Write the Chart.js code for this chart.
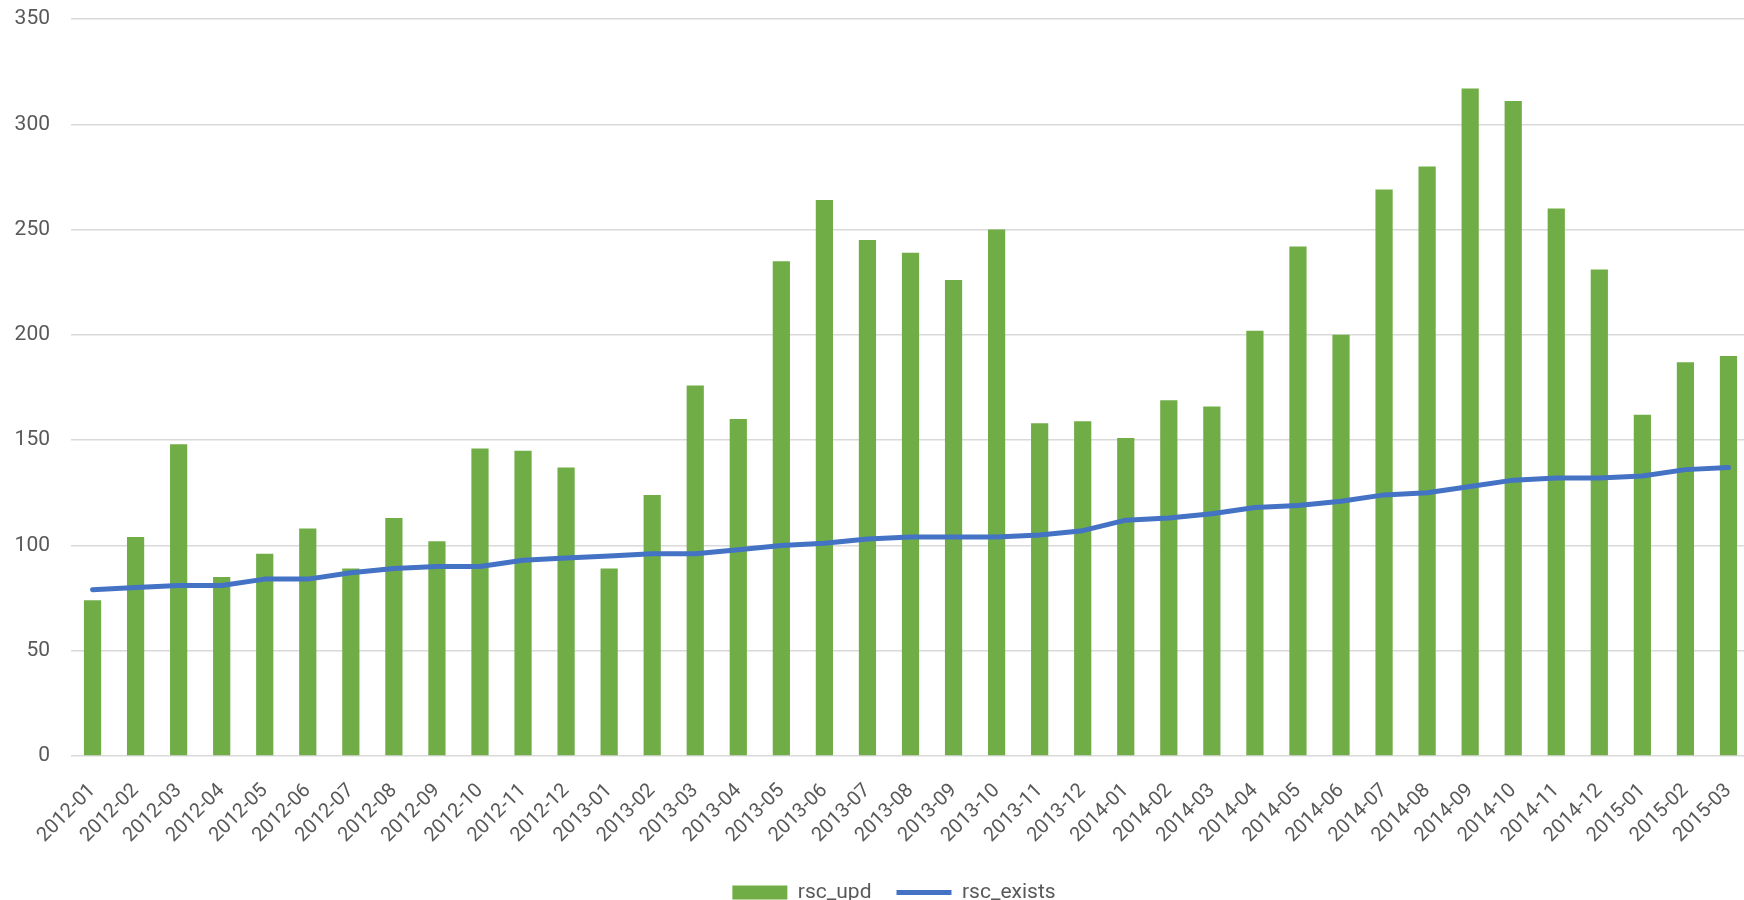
<!DOCTYPE html>
<html>
<head>
<meta charset="utf-8">
<script src="https://cdn.jsdelivr.net/npm/chart.js@4"></script>
<style>
  html, body { margin: 0; padding: 0; background: #fff; }
  #wrap { width: 1744px; height: 900px; }
</style>
</head>
<body>
<div id="wrap"><canvas id="myChart" width="1744" height="900"></canvas></div>
<script>
const months = [
  "2012-01", "2012-02", "2012-03", "2012-04", "2012-05", "2012-06", "2012-07", "2012-08", "2012-09", "2012-10", "2012-11", "2012-12",
  "2013-01", "2013-02", "2013-03", "2013-04", "2013-05", "2013-06", "2013-07", "2013-08", "2013-09", "2013-10", "2013-11", "2013-12",
  "2014-01", "2014-02", "2014-03", "2014-04", "2014-05", "2014-06", "2014-07", "2014-08", "2014-09", "2014-10", "2014-11", "2014-12",
  "2015-01", "2015-02", "2015-03"
];

const rscUpd = [
  74, 104, 148, 85, 96, 108, 89, 113, 102, 146, 145, 137,
  89, 124, 176, 160, 235, 264, 245, 239, 226, 250, 158, 159,
  151, 169, 166, 202, 242, 200, 269, 280, 317, 311, 260, 231,
  162, 187, 190
];

const rscExists = [
  79, 80, 81, 81, 84, 84, 87, 89, 90, 90, 93, 94,
  95, 96, 96, 98, 100, 101, 103, 104, 104, 104, 105, 107,
  112, 113, 115, 118, 119, 121, 124, 125, 128, 131, 132, 132,
  133, 136, 137
];

const yTicks = [0, 50, 100, 150, 200, 250, 300, 350];

const textColor = "#595959";
const gridColor = "#d9d9d9";
const fontFamily = "Roboto, 'Open Sans', sans-serif";

// the original plot runs a few px past the right edge, and its legend sits a bit right/low
const layoutTweaks = {
  id: "layoutTweaks",
  afterLayout(chart) {
    const x = chart.scales.x;
    x.right += 6;
    x.width += 6;
    x.configure();
    chart.chartArea.right += 6;
    chart.chartArea.width += 6;

    const lg = chart.legend;
    lg.left += 22;
    lg.right += 22;
    lg.top += 13;
    lg.bottom += 13;
  },
};

const ctx = document.getElementById("myChart").getContext("2d");

const myChart = new Chart(ctx, {
  type: "bar",
  data: {
    labels: months,
    datasets: [
      {
        type: "bar",
        label: "rsc_upd",
        data: rscUpd,
        backgroundColor: "#70ad47",
        borderWidth: 0,
        barPercentage: 0.4,
        categoryPercentage: 1.0,
        pointStyle: "rect",
        order: 2,
      },
      {
        type: "line",
        label: "rsc_exists",
        data: rscExists,
        borderColor: "#4472c4",
        backgroundColor: "#4472c4",
        borderWidth: 5,
        borderCapStyle: "round",
        borderJoinStyle: "round",
        pointRadius: 0,
        pointStyle: "line",
        tension: 0,
        fill: false,
        order: 1,
      },
    ],
  },
  options: {
    responsive: false,
    animation: false,
    layout: { padding: { top: 19, right: 0, bottom: 0, left: 0 } },
    scales: {
      x: {
        offset: true,
        grid: { display: false },
        border: { display: false },
        ticks: {
          color: textColor,
          font: { family: fontFamily, size: 20 },
          maxRotation: 45,
          minRotation: 45,
          autoSkip: false,
          padding: 15,
        },
        afterFit: function (axis) {
          axis.height = 88;
          axis.paddingLeft = 0;
          axis.paddingRight = 0;
        },
      },
      y: {
        min: 0,
        max: 350,
        afterBuildTicks: function (axis) {
          axis.ticks = yTicks.map((v) => ({ value: v }));
        },
        grid: { color: gridColor, lineWidth: 1.5, drawTicks: false },
        border: { display: false },
        ticks: {
          color: textColor,
          font: { family: fontFamily, size: 21 },
          padding: 21,
        },
        afterFit: function (axis) {
          axis.width = 71;
          axis.paddingTop = 0;
          axis.paddingBottom = 0;
        },
      },
    },
    plugins: {
      legend: {
        position: "bottom",
        labels: {
          color: textColor,
          font: { family: fontFamily, size: 21 },
          usePointStyle: true,
          pointStyleWidth: 55,
          boxHeight: 14,
          padding: 25,
          sort: (a, b) => a.datasetIndex - b.datasetIndex,
        },
      },
      tooltip: { enabled: false },
    },
  },
  plugins: [layoutTweaks],
});
</script>
</body>
</html>
